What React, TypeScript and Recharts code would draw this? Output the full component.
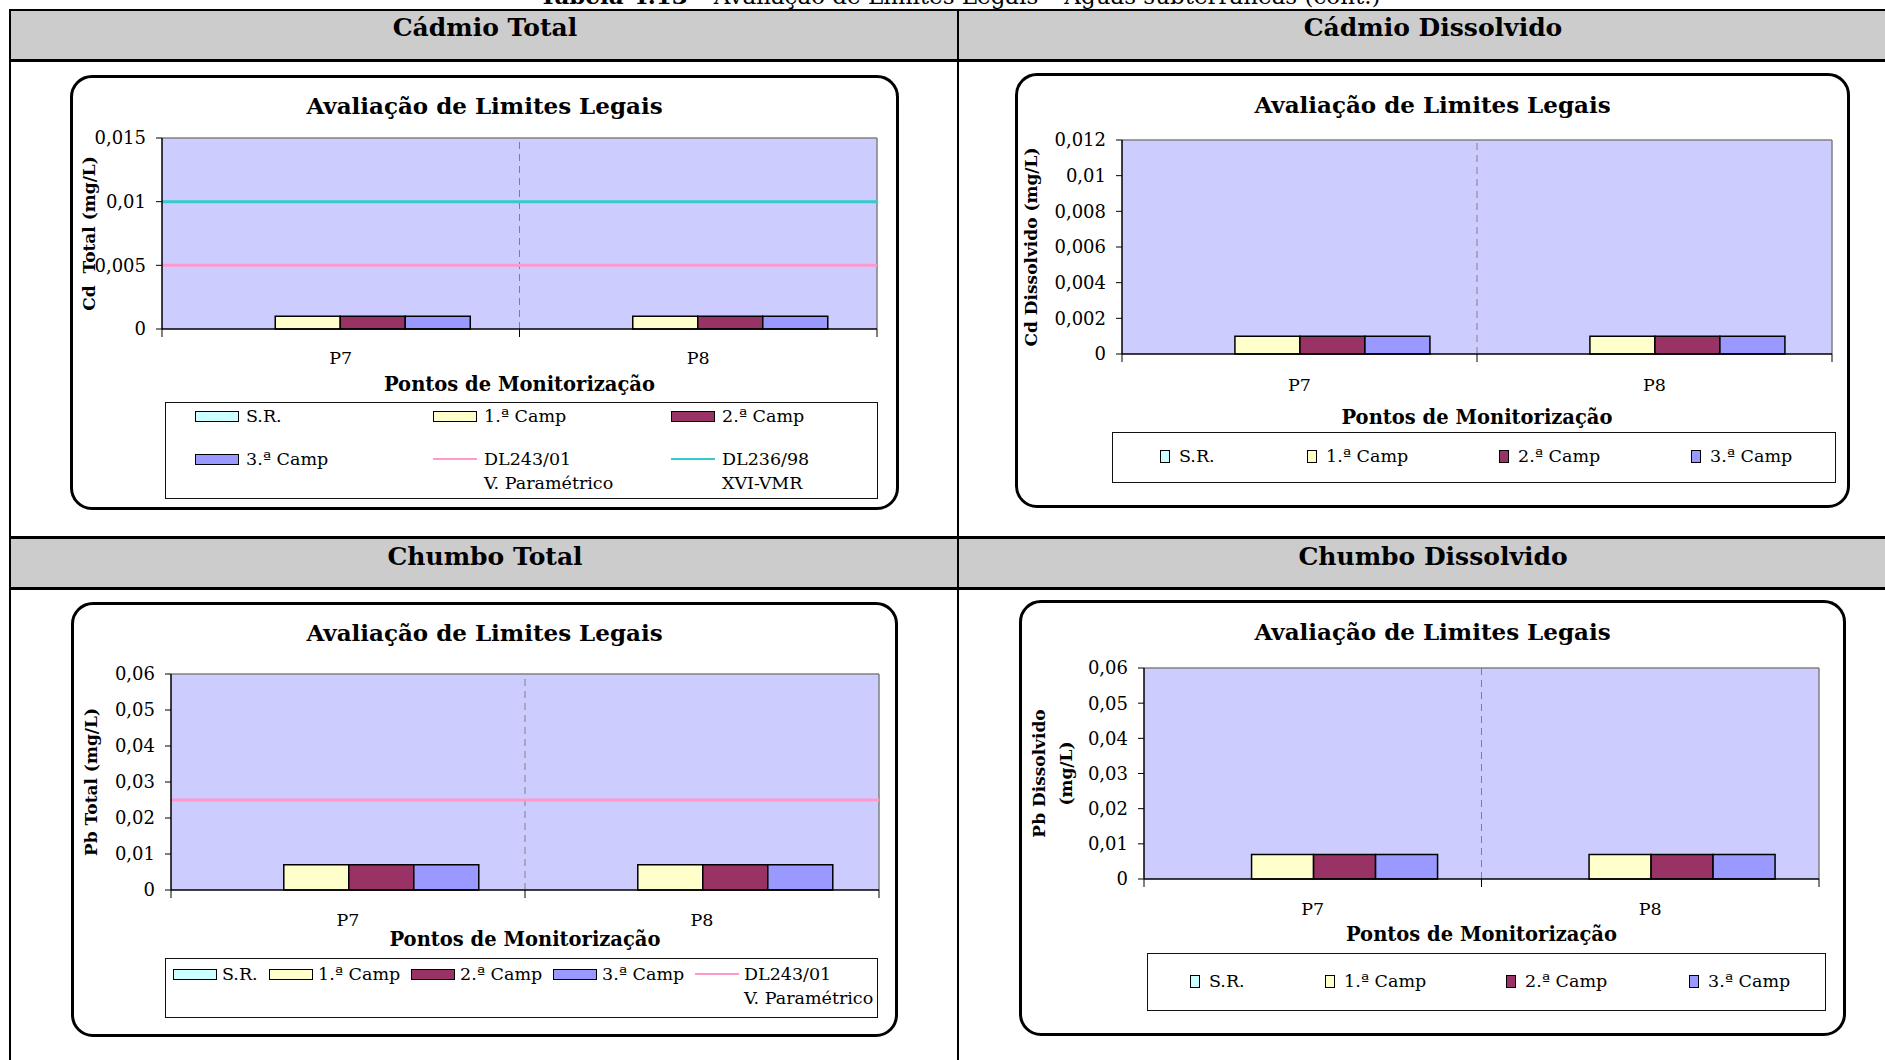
import React from 'react';
import {
  BarChart,
  Bar,
  XAxis,
  YAxis,
  CartesianGrid,
  ReferenceLine,
  Legend,
  Label,
} from 'recharts';

const FONT = '"DejaVu Serif", "Liberation Serif", serif';

// monitoring points (categories)
const points = ['P7', 'P8'];

// campaigns
const seriesKeys = ['sr', 'c1', 'c2', 'c3'];
const seriesNames = ['S.R.', '1.ª Camp', '2.ª Camp', '3.ª Camp'];
const seriesColors = ['#ccffff', '#ffffcc', '#993366', '#9999ff'];

// Cádmio Total (mg/L)
const cdTotalSR = [0, 0];
const cdTotal1 = [0.001, 0.001];
const cdTotal2 = [0.001, 0.001];
const cdTotal3 = [0.001, 0.001];
const cdTotalTicks = [0, 0.005, 0.01, 0.015];

// Cádmio Dissolvido (mg/L)
const cdDissSR = [0, 0];
const cdDiss1 = [0.001, 0.001];
const cdDiss2 = [0.001, 0.001];
const cdDiss3 = [0.001, 0.001];
const cdDissTicks = [0, 0.002, 0.004, 0.006, 0.008, 0.01, 0.012];

// Chumbo Total (mg/L)
const pbTotalSR = [0, 0];
const pbTotal1 = [0.007, 0.007];
const pbTotal2 = [0.007, 0.007];
const pbTotal3 = [0.007, 0.007];
const pbTotalTicks = [0, 0.01, 0.02, 0.03, 0.04, 0.05, 0.06];

// Chumbo Dissolvido (mg/L)
const pbDissSR = [0, 0];
const pbDiss1 = [0.007, 0.007];
const pbDiss2 = [0.007, 0.007];
const pbDiss3 = [0.007, 0.007];
const pbDissTicks = [0, 0.01, 0.02, 0.03, 0.04, 0.05, 0.06];

// legal limits
const dl243Label = ['DL243/01', 'V. Paramétrico'];
const dl236Label = ['DL236/98', 'XVI-VMR'];
const cdDl243 = 0.005;
const cdDl236 = 0.01;
const pbDl243 = 0.025;

const PINK = '#ff99cc';
const CYAN = '#33cccc';

const toRows = (sr: number[], c1: number[], c2: number[], c3: number[]) =>
  points.map((p, i) => ({ point: p, sr: sr[i], c1: c1[i], c2: c2[i], c3: c3[i] }));

const fmt = (v: number) => String(v).replace('.', ',');

const panels = [
  {
    rows: toRows(cdTotalSR, cdTotal1, cdTotal2, cdTotal3),
    ticks: cdTotalTicks,
    yTitle: ['Cd  Total (mg/L)'],
    yTitleX: [19],
    limits: [
      { value: cdDl243, color: PINK, label: dl243Label },
      { value: cdDl236, color: CYAN, label: dl236Label },
    ],
    box: { x: 70, y: 75, w: 829, h: 435 },
    margin: { top: 63, right: 22, left: 0, bottom: 119 },
    yAxisW: 92,
    xAxisH: 62,
    tickMargin: 23,
    titleY: 31,
    legend: {
      left: 95, top: 327, width: 713, height: 97, swatch: 'bar', gap: 7,
      pos: [[29, 13], [267, 13], [505, 13], [29, 56], [267, 56], [505, 56]],
    },
  },
  {
    rows: toRows(cdDissSR, cdDiss1, cdDiss2, cdDiss3),
    ticks: cdDissTicks,
    yTitle: ['Cd Dissolvido (mg/L)'],
    yTitleX: [16],
    limits: [],
    box: { x: 1015, y: 73, w: 835, h: 435 },
    margin: { top: 67, right: 18, left: 0, bottom: 84 },
    yAxisW: 107,
    xAxisH: 70,
    tickMargin: 25,
    titleY: 32,
    legend: {
      left: 97, top: 359, width: 724, height: 51, swatch: 'square', gap: 9,
      pos: [[47, 23], [194, 23], [386, 23], [578, 23]],
    },
  },
  {
    rows: toRows(pbTotalSR, pbTotal1, pbTotal2, pbTotal3),
    ticks: pbTotalTicks,
    yTitle: ['Pb Total (mg/L)'],
    yTitleX: [20],
    limits: [{ value: pbDl243, color: PINK, label: dl243Label }],
    box: { x: 71, y: 602, w: 827, h: 435 },
    margin: { top: 72, right: 19, left: 0, bottom: 91 },
    yAxisW: 100,
    xAxisH: 56,
    tickMargin: 24,
    titleY: 31,
    legend: {
      left: 94, top: 356, width: 713, height: 60, swatch: 'bar', gap: 5,
      pos: [[7, 15], [103, 15], [245, 15], [387, 15], [529, 15]],
    },
  },
  {
    rows: toRows(pbDissSR, pbDiss1, pbDiss2, pbDiss3),
    ticks: pbDissTicks,
    yTitle: ['Pb Dissolvido', '(mg/L)'],
    yTitleX: [20, 47],
    limits: [],
    box: { x: 1019, y: 600, w: 827, h: 436 },
    margin: { top: 68, right: 27, left: 0, bottom: 95 },
    yAxisW: 125,
    xAxisH: 62,
    tickMargin: 24,
    titleY: 32,
    legend: {
      left: 128, top: 353, width: 679, height: 58, swatch: 'square', gap: 9,
      pos: [[42, 27], [177, 27], [358, 27], [541, 27]],
    },
  },
];

const headers = [
  { text: 'Cádmio Total', x: 485, y: 28 },
  { text: 'Cádmio Dissolvido', x: 1433, y: 28 },
  { text: 'Chumbo Total', x: 485, y: 557 },
  { text: 'Chumbo Dissolvido', x: 1433, y: 557 },
];

function YTitle({ viewBox, lines, xs }: any) {
  const cy = viewBox.y + viewBox.height / 2;
  return (
    <g>
      {lines.map((t: string, i: number) => {
        const x = viewBox.x + xs[i];
        return (
          <text
            key={i}
            x={x}
            y={cy}
            transform={`rotate(-90 ${x} ${cy})`}
            textAnchor="middle"
            dominantBaseline="central"
            fontFamily={FONT}
            fontWeight="bold"
            fontSize={17}
            fill="#000"
            style={{ whiteSpace: 'pre' }}
          >
            {t}
          </text>
        );
      })}
    </g>
  );
}

// category tick: label at the band centre, tick marks on the band edges
function PointTick({ x, y, payload, index, tickMargin, halfBand }: any) {
  const half = payload && payload.offset ? payload.offset : halfBand;
  const axisY = y - tickMargin;
  const last = index === points.length - 1;
  return (
    <g>
      <line x1={x - half} x2={x - half} y1={axisY} y2={axisY + 8} stroke="#000" />
      {last && <line x1={x + half} x2={x + half} y1={axisY} y2={axisY + 8} stroke="#000" />}
      <text
        x={x}
        y={y}
        dy="0.71em"
        textAnchor="middle"
        fontFamily={FONT}
        fontSize={17.5}
        fill="#000"
      >
        {payload.value}
      </text>
    </g>
  );
}

function LegendBox({ cfg }: any) {
  const lg = cfg.legend;
  const items = [
    ...seriesNames.map((n, i) => ({ kind: 'bar', color: seriesColors[i], lines: [n] })),
    ...cfg.limits.map((l: any) => ({ kind: 'line', color: l.color, lines: l.label })),
  ];
  const sw = lg.swatch === 'square' ? { w: 10, h: 13 } : { w: 44, h: 11 };
  return (
    <div
      style={{
        position: 'relative',
        width: lg.width,
        height: lg.height,
        boxSizing: 'border-box',
        border: '1px solid #111',
        background: '#fff',
        fontFamily: FONT,
        fontSize: 17.5,
        color: '#000',
      }}
    >
      {items.map((it, i) => {
        const [x, y] = lg.pos[i];
        return (
          <div
            key={i}
            style={{
              position: 'absolute',
              left: x,
              top: y - 12,
              display: 'flex',
              alignItems: 'flex-start',
              whiteSpace: 'nowrap',
            }}
          >
            <div
              style={{
                width: sw.w,
                height: 24,
                display: 'flex',
                alignItems: 'center',
                marginRight: lg.gap,
              }}
            >
              {it.kind === 'bar' ? (
                <div
                  style={{
                    width: sw.w,
                    height: sw.h,
                    boxSizing: 'border-box',
                    background: it.color,
                    border: '1.5px solid #000',
                  }}
                />
              ) : (
                <div style={{ width: sw.w, height: 2, background: it.color }} />
              )}
            </div>
            <div style={{ lineHeight: '24px' }}>
              {it.lines.map((t: string, j: number) => (
                <div key={j}>{t}</div>
              ))}
            </div>
          </div>
        );
      })}
    </div>
  );
}

function Panel({ cfg }: any) {
  const { box, ticks, margin } = cfg;
  const yMax = ticks[ticks.length - 1];
  const plotW = box.w - margin.left - margin.right - cfg.yAxisW;
  const halfBand = plotW / points.length / 2;
  const lastPoint = points[points.length - 1];
  return (
    <div style={{ position: 'absolute', left: box.x, top: box.y, width: box.w, height: box.h }}>
      <div
        style={{
          position: 'absolute',
          left: 0,
          top: 0,
          width: box.w,
          height: box.h,
          boxSizing: 'border-box',
          border: '3px solid #000',
          borderRadius: 22,
          background: '#fff',
        }}
      />
      <div
        style={{
          position: 'absolute',
          left: 0,
          top: cfg.titleY - 14,
          width: box.w,
          lineHeight: '28px',
          textAlign: 'center',
          fontFamily: FONT,
          fontWeight: 'bold',
          fontSize: 23,
          color: '#000',
        }}
      >
        Avaliação de Limites Legais
      </div>
      <div style={{ position: 'absolute', left: 0, top: 0 }}>
        <BarChart
          width={box.w}
          height={box.h}
          data={cfg.rows}
          margin={margin}
          barCategoryGap="13.5%"
          barGap={0}
        >
          <CartesianGrid fill="#ccccff" horizontal={false} vertical={false} stroke="none" />
          <XAxis
            dataKey="point"
            axisLine={{ stroke: '#000', strokeWidth: 1.5 }}
            tickLine={false}
            tickSize={0}
            tickMargin={cfg.tickMargin}
            height={cfg.xAxisH}
            interval={0}
            tick={<PointTick tickMargin={cfg.tickMargin} halfBand={halfBand} />}
          >
            <Label
              value="Pontos de Monitorização"
              position="insideBottom"
              offset={0}
              fontFamily={FONT}
              fontWeight="bold"
              fontSize={19.5}
              fill="#000"
            />
          </XAxis>
          <YAxis
            domain={[0, yMax]}
            ticks={ticks}
            interval={0}
            width={cfg.yAxisW}
            tickSize={6}
            tickMargin={10}
            axisLine={{ stroke: '#000', strokeWidth: 1.5 }}
            tickLine={{ stroke: '#000' }}
            tick={{ fontFamily: FONT, fontSize: 18, fill: '#000' }}
            tickFormatter={fmt}
          >
            <Label content={(p: any) => <YTitle viewBox={p.viewBox} lines={cfg.yTitle} xs={cfg.yTitleX} />} />
          </YAxis>
          <ReferenceLine y={yMax} stroke="#808080" strokeWidth={1.5} />
          <ReferenceLine x={lastPoint} position="end" stroke="#808080" strokeWidth={1.5} />
          {points.slice(1).map((p) => (
            <ReferenceLine key={p} x={p} position="start" stroke="#808080" strokeDasharray="7 5" />
          ))}
          {cfg.limits.map((l: any, i: number) => (
            <ReferenceLine key={i} y={l.value} stroke={l.color} strokeWidth={3} />
          ))}
          {seriesKeys.map((k, i) => (
            <Bar
              key={k}
              dataKey={k}
              name={seriesNames[i]}
              fill={seriesColors[i]}
              stroke="#000"
              strokeWidth={1.5}
              isAnimationActive={false}
            />
          ))}
          <Legend
            layout="vertical"
            verticalAlign="middle"
            align="center"
            width={cfg.legend.width}
            height={cfg.legend.height}
            wrapperStyle={{
              left: cfg.legend.left,
              top: cfg.legend.top,
              width: cfg.legend.width,
              height: cfg.legend.height,
            }}
            content={() => <LegendBox cfg={cfg} />}
          />
        </BarChart>
      </div>
    </div>
  );
}

export default function App() {
  return (
    <div
      style={{
        position: 'absolute',
        left: 0,
        top: 0,
        width: 1885,
        height: 1060,
        overflow: 'hidden',
        background: '#fff',
      }}
    >
      {/* caption, cut off by the top edge */}
      <div
        style={{
          position: 'absolute',
          left: 0,
          top: -15,
          width: 1920,
          lineHeight: '22px',
          textAlign: 'center',
          fontFamily: FONT,
          fontSize: 23,
          color: '#000',
          whiteSpace: 'nowrap',
        }}
      >
        <b>Tabela 4.13</b> – Avaliação de Limites Legais – Águas subterrâneas (cont.)
      </div>

      {/* table grid */}
      <div style={{ position: 'absolute', left: 11, top: 11, width: 1874, height: 48, background: '#cccccc' }} />
      <div style={{ position: 'absolute', left: 11, top: 539, width: 1874, height: 48, background: '#cccccc' }} />
      <div style={{ position: 'absolute', left: 9, top: 9, width: 1876, height: 2, background: '#000' }} />
      <div style={{ position: 'absolute', left: 9, top: 59, width: 1876, height: 3, background: '#000' }} />
      <div style={{ position: 'absolute', left: 9, top: 536, width: 1876, height: 3, background: '#000' }} />
      <div style={{ position: 'absolute', left: 9, top: 587, width: 1876, height: 3, background: '#000' }} />
      <div style={{ position: 'absolute', left: 9, top: 9, width: 2, height: 1051, background: '#000' }} />
      <div style={{ position: 'absolute', left: 957, top: 9, width: 2, height: 1051, background: '#000' }} />

      {headers.map((h) => (
        <div
          key={h.text}
          style={{
            position: 'absolute',
            left: h.x - 300,
            top: h.y - 14,
            width: 600,
            lineHeight: '28px',
            textAlign: 'center',
            fontFamily: FONT,
            fontWeight: 'bold',
            fontSize: 25,
            color: '#000',
          }}
        >
          {h.text}
        </div>
      ))}

      {panels.map((p, i) => (
        <Panel key={i} cfg={p} />
      ))}
    </div>
  );
}
